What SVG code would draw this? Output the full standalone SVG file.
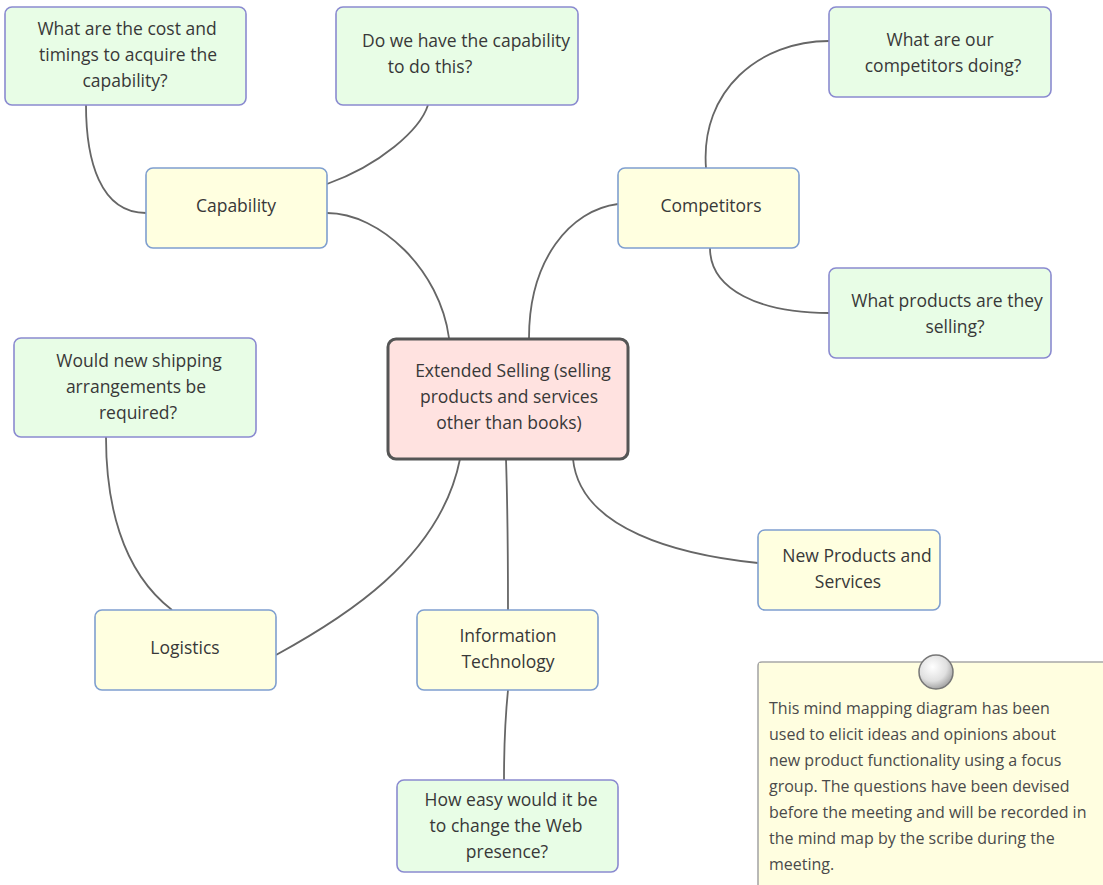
<svg xmlns="http://www.w3.org/2000/svg" width="1103" height="885" viewBox="0 0 1103 885">
<defs>
<radialGradient id="pin" cx="0.4" cy="0.35" r="0.7">
<stop offset="0" stop-color="#ffffff"/>
<stop offset="0.6" stop-color="#e0e0e0"/>
<stop offset="1" stop-color="#9a9a9a"/>
</radialGradient>
</defs>
<style>
text{font-family:"Open Sans","Noto Sans","Liberation Sans",sans-serif;font-size:17.5px;fill:#383838;text-anchor:middle}
.topic rect{fill:#ffffe0;stroke:#7f9fcf;stroke-width:1.6}
.q rect{fill:#e8fde6;stroke:#8a8ad0;stroke-width:1.6}
.center rect{fill:#ffe2e0;stroke:#555;stroke-width:3}
.conn path{fill:none;stroke:#666;stroke-width:1.8}
.note text{text-anchor:start;fill:#4a4a4a;font-size:16px}
</style>
<rect width="1103" height="885" fill="#ffffff"/>
<g class="conn" id="connectors">
<path d="M449,338 C440,270 380,213 327,213"/>
<path d="M529,338 C529,260 570,210 618,204"/>
<path d="M146,213 C100,213 86,160 86,105"/>
<path d="M327,184 C380,165 420,130 428,105"/>
<path d="M706,168 C700,90 760,41 829,41"/>
<path d="M710,248 C710,290 760,313 829,313"/>
<path d="M460,459 C440,560 340,620 276,655"/>
<path d="M506,459 C508,520 508,560 508,610"/>
<path d="M573,459 C580,530 680,555 758,563"/>
<path d="M172,610 C120,570 106,500 106,437"/>
<path d="M508,690 C505,720 504,750 504,780"/>
</g>
<g class="center" id="extended-selling">
<rect x="388" y="339" width="240" height="120" rx="8"/>
<text x="513" y="377">Extended Selling (selling</text>
<text x="509" y="403">products and services</text>
<text x="509" y="429">other than books)</text>
</g>
<g class="topic" id="capability">
<rect x="146" y="168" width="181" height="80" rx="7"/>
<text x="236" y="212">Capability</text>
</g>
<g class="topic" id="competitors">
<rect x="618" y="168" width="181" height="80" rx="7"/>
<text x="711" y="212">Competitors</text>
</g>
<g class="topic" id="logistics">
<rect x="95" y="610" width="181" height="80" rx="7"/>
<text x="185" y="654">Logistics</text>
</g>
<g class="topic" id="information-technology">
<rect x="417" y="610" width="181" height="80" rx="7"/>
<text x="508" y="642">Information</text>
<text x="508" y="668">Technology</text>
</g>
<g class="topic" id="new-products">
<rect x="758" y="530" width="182" height="80" rx="7"/>
<text x="857" y="562">New Products and</text>
<text x="848" y="588">Services</text>
</g>
<g class="q" id="q-cost">
<rect x="5" y="7" width="241" height="98" rx="7"/>
<text x="127" y="35">What are the cost and</text>
<text x="128" y="61">timings to acquire the</text>
<text x="125" y="87">capability?</text>
</g>
<g class="q" id="q-capability">
<rect x="336" y="7" width="242" height="98" rx="7"/>
<text x="466" y="47">Do we have the capability</text>
<text x="430" y="73">to do this?</text>
</g>
<g class="q" id="q-competitors">
<rect x="829" y="7" width="222" height="90" rx="7"/>
<text x="940" y="46">What are our</text>
<text x="943" y="72">competitors doing?</text>
</g>
<g class="q" id="q-products">
<rect x="829" y="268" width="222" height="90" rx="7"/>
<text x="947" y="307">What products are they</text>
<text x="955" y="333">selling?</text>
</g>
<g class="q" id="q-shipping">
<rect x="14" y="338" width="242" height="99" rx="7"/>
<text x="139" y="367">Would new shipping</text>
<text x="136" y="393">arrangements be</text>
<text x="138" y="419">required?</text>
</g>
<g class="q" id="q-web">
<rect x="397" y="780" width="221" height="92" rx="7"/>
<text x="511" y="806">How easy would it be</text>
<text x="506" y="832">to change the Web</text>
<text x="507" y="858">presence?</text>
</g>
<g class="note" id="note">
<path d="M758,885 L758,666 Q758,662 762,662 L1103,662" fill="#fffee0" stroke="#a8a8a8" stroke-width="1.6"/>
<rect x="759" y="663" width="344" height="222" fill="#fffee0"/>
<circle cx="936" cy="672" r="17" fill="url(#pin)" stroke="#777" stroke-width="1.5"/>
<text x="769" y="714">This mind mapping diagram has been</text>
<text x="769" y="740">used to elicit ideas and opinions about</text>
<text x="769" y="766">new product functionality using a focus</text>
<text x="769" y="792">group. The questions have been devised</text>
<text x="769" y="818">before the meeting and will be recorded in</text>
<text x="769" y="844">the mind map by the scribe during the</text>
<text x="769" y="870">meeting.</text>
</g>
</svg>
